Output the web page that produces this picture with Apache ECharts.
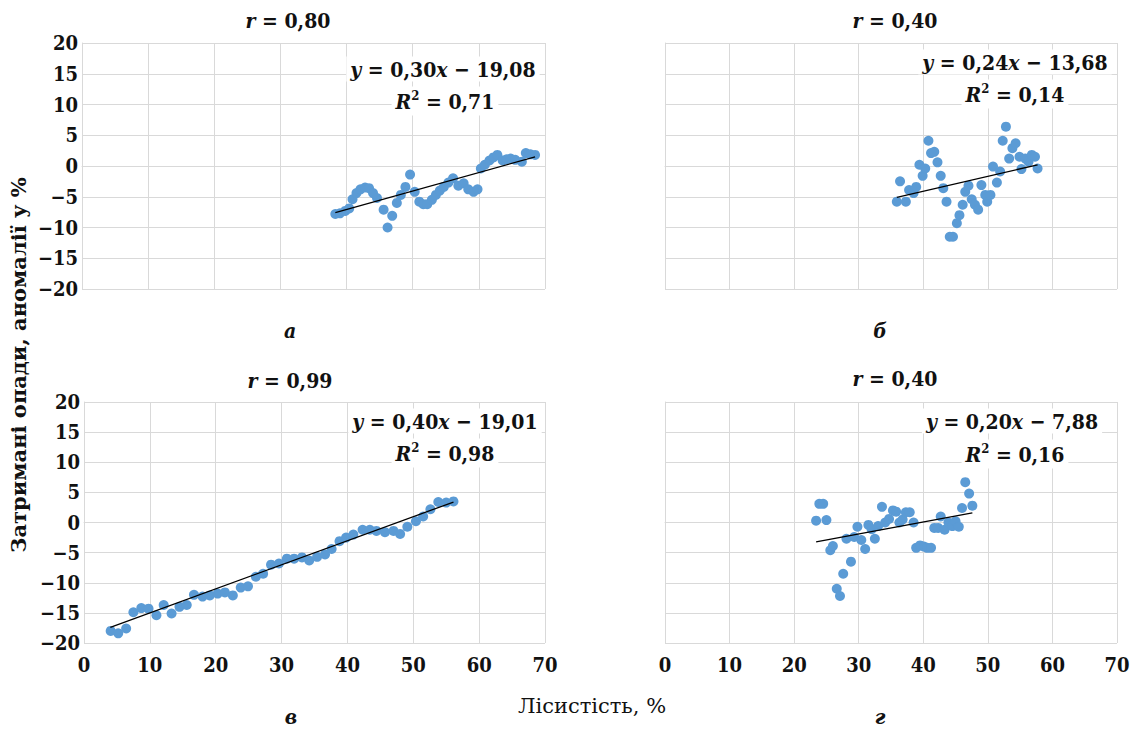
<!DOCTYPE html>
<html>
<head>
<meta charset="utf-8">
<script src="https://cdn.jsdelivr.net/npm/echarts@6/dist/echarts.min.js"></script>
<style>
html,body{margin:0;padding:0;background:#fff;}
#chart{width:1133px;height:730px;}
</style>
</head>
<body>
<div id="chart"></div>
<script>
// ---------- DATA ----------
const panelA = [[38.3,-7.8],[39.0,-7.7],[39.8,-7.3],[40.4,-6.9],[40.9,-5.4],[41.5,-4.4],[42.1,-3.8],[42.8,-3.5],[43.4,-3.6],[44.0,-4.4],[44.6,-5.2],[45.6,-7.1],[46.2,-10.0],[46.9,-8.1],[47.6,-6.0],[48.2,-4.7],[48.9,-3.4],[49.6,-1.4],[50.3,-4.2],[51.0,-5.8],[51.6,-6.2],[52.2,-6.2],[52.9,-5.5],[53.5,-4.7],[54.1,-4.0],[54.7,-3.4],[55.4,-2.7],[56.1,-2.0],[56.9,-3.2],[57.7,-2.8],[58.4,-3.8],[59.2,-4.2],[59.8,-3.8],[60.3,-0.4],[60.9,0.2],[61.6,0.9],[62.2,1.4],[62.8,1.8],[63.6,0.9],[64.2,1.1],[64.8,1.2],[65.5,1.0],[66.5,0.7],[67.1,2.1],[67.8,1.9],[68.5,1.8]];
const panelB = [[35.9,-5.8],[36.4,-2.5],[37.3,-5.8],[37.8,-3.9],[38.5,-4.4],[38.9,-3.4],[39.4,0.2],[39.9,-1.6],[40.3,-0.4],[40.8,4.1],[41.2,2.1],[41.7,2.3],[42.2,0.6],[42.7,-1.6],[43.1,-3.6],[43.6,-5.8],[44.1,-11.5],[44.6,-11.5],[45.2,-9.3],[45.6,-8.0],[46.1,-6.3],[46.5,-4.2],[47.0,-3.2],[47.5,-5.4],[48.0,-6.3],[48.5,-7.1],[49.0,-3.1],[49.6,-4.7],[49.9,-5.8],[50.4,-4.7],[50.8,-0.1],[51.4,-2.7],[51.9,-0.9],[52.3,4.1],[52.8,6.4],[53.3,1.2],[53.8,2.9],[54.3,3.7],[54.9,1.5],[55.2,-0.5],[55.8,1.2],[56.3,0.7],[56.8,1.8],[57.3,1.5],[57.7,-0.4]];
const panelC = [[4.05,-18.0],[5.2,-18.4],[6.4,-17.6],[7.5,-14.9],[8.7,-14.2],[9.8,-14.3],[11.0,-15.4],[12.1,-13.7],[13.3,-15.1],[14.5,-14.0],[15.6,-13.7],[16.7,-12.0],[18.0,-12.3],[19.1,-12.1],[20.3,-11.8],[21.4,-11.6],[22.6,-12.1],[23.8,-10.8],[24.9,-10.6],[26.1,-9.0],[27.2,-8.5],[28.4,-7.0],[29.6,-6.8],[30.8,-6.0],[31.9,-6.0],[33.1,-5.8],[34.2,-6.3],[35.4,-5.7],[36.6,-5.3],[37.6,-4.4],[38.8,-3.1],[39.8,-2.5],[40.9,-2.0],[42.3,-1.2],[43.4,-1.2],[44.4,-1.4],[45.7,-1.6],[47.0,-1.4],[48.0,-1.9],[49.1,-0.7],[50.4,0.2],[51.5,1.0],[52.6,2.2],[53.8,3.4],[55.0,3.3],[56.1,3.5]];
const panelD = [[23.4,0.3],[23.9,3.1],[24.5,3.1],[25.0,0.4],[25.6,-4.6],[26.0,-3.9],[26.6,-11.0],[27.1,-12.2],[27.6,-8.5],[28.1,-2.7],[28.8,-6.5],[29.3,-2.4],[29.8,-0.7],[30.4,-2.9],[31.0,-4.4],[31.5,-0.4],[32.0,-1.1],[32.5,-2.7],[33.0,-0.6],[33.6,2.6],[34.1,0.0],[34.7,0.6],[35.3,2.0],[35.8,1.8],[36.3,0.0],[36.8,0.5],[37.3,1.7],[37.9,1.7],[38.5,0.0],[38.9,-4.2],[39.5,-3.8],[40.1,-4.0],[40.6,-4.2],[41.2,-4.2],[41.7,-0.9],[42.3,-0.9],[42.7,1.0],[43.3,-1.2],[43.9,0.0],[44.5,-0.6],[45.0,0.2],[45.5,-0.7],[46.0,2.4],[46.5,6.7],[47.1,4.8],[47.6,2.8]];

const trendA = [[38.3,-7.6],[68.5,1.5]];
const trendB = [[35.9,-5.1],[57.7,0.2]];
const trendC = [[4.0,-17.4],[56.1,3.4]];
const trendD = [[23.4,-3.2],[47.6,1.6]];

const rTitles = ['0,80','0,40','0,99','0,40'];
const equations = [['0,30','19,08'],['0,24','13,68'],['0,40','19,01'],['0,20','7,88']];
const r2Values = ['0,71','0,14','0,98','0,16'];
const panelLetters = ['а','б','в','г'];
const xTicks = {min:0, max:70, interval:10};
const yTicks = {min:-20, max:20, interval:5};
const xAxisName = 'Лісистість, %';
const yAxisName = 'Затримані опади, аномалії у %';

// ---------- LAYOUT ----------
const FONT = '"DejaVu Serif Condensed", "DejaVu Serif", "Liberation Serif", serif';
const FONT_WIDE = '"DejaVu Serif", "Liberation Serif", serif';
const grids = [
  {left:82, top:43, width:463, height:246},
  {left:665, top:43, width:452, height:246},
  {left:84, top:402, width:461, height:241},
  {left:665, top:402, width:452, height:241}
];
const gridColor = '#d9d9d9';
const dotColor = '#5b9bd5';

const xAxes = grids.map((g,i)=>({
  type:'value', gridIndex:i, min:xTicks.min, max:xTicks.max, interval:xTicks.interval,
  axisLine:{show:true, lineStyle:{color:gridColor}},
  axisTick:{show:false},
  splitLine:{show:true, lineStyle:{color:gridColor, width:1}},
  axisLabel:{show:i>=2, color:'#111', fontFamily:FONT, fontWeight:'bold', fontSize:20, margin:12}
}));
const yAxes = grids.map((g,i)=>({
  type:'value', gridIndex:i, min:yTicks.min, max:yTicks.max, interval:yTicks.interval,
  axisLine:{show:true, lineStyle:{color:gridColor}},
  axisTick:{show:false},
  splitLine:{show:true, lineStyle:{color:gridColor, width:1}},
  axisLabel:{show:(i%2===0), color:'#111', fontFamily:FONT, fontWeight:'bold', fontSize:20, margin:4,
    formatter:v=> v<0 ? '\u2212'+Math.abs(v) : String(v)}
}));

const scatterData = [panelA,panelB,panelC,panelD];
const trendData = [trendA,trendB,trendC,trendD];
const series = [];
scatterData.forEach((d,i)=>{
  series.push({type:'scatter', xAxisIndex:i, yAxisIndex:i, data:d, symbolSize:10,
    itemStyle:{color:dotColor, opacity:1}, z:3});
});
trendData.forEach((d,i)=>{
  series.push({type:'line', xAxisIndex:i, yAxisIndex:i, data:d, symbol:'none',
    lineStyle:{color:'#000', width:1.3}, z:4});
});

// ---------- TEXTS ----------
const richItalic = {i:{fontStyle:'italic', fontWeight:'bold', fontFamily:FONT, fontSize:21, fill:'#111'},
                    sup:{fontWeight:'bold', fontFamily:FONT, fontSize:13, verticalAlign:'top', padding:[0,0,12,0]}};
function txt(x,y,text,opts){
  return Object.assign({type:'text', x:x, y:y, z:100, style:Object.assign({
    text:text, fontFamily:FONT, fontSize:21, fontWeight:'bold', fill:'#111',
    align:'center', verticalAlign:'middle', rich:richItalic
  }, opts||{})});
}
const titlePos = [[288,20],[895,20],[290,380],[895,378]];
const eqPos = [[443,69],[1015,62],[445,421],[1012,421]];
const r2Pos = [[445,101],[1015,94],[445,453],[1015,454]];
const letterPos = [[290,330],[880,330],[291,716],[880,716]];
const graphics = [];
for(let i=0;i<4;i++){
  graphics.push(txt(titlePos[i][0],titlePos[i][1],'{i|r} = '+rTitles[i]));
  graphics.push(txt(eqPos[i][0],eqPos[i][1],'{i|y} = '+equations[i][0]+'{i|x} \u2212 '+equations[i][1],
     {backgroundColor:'#fff', padding:[2,4]}));
  graphics.push(txt(r2Pos[i][0],r2Pos[i][1],'{i|R}{sup|2} = '+r2Values[i],
     {backgroundColor:'#fff', padding:[2,4]}));
  graphics.push(txt(letterPos[i][0],letterPos[i][1],'{i|'+panelLetters[i]+'}'));
}
graphics.push(txt(592,706,xAxisName,{fontWeight:'normal', fontSize:21, fontFamily:FONT_WIDE}));
graphics.push({type:'text', x:18, y:365, rotation:Math.PI/2, z:100,
  style:{text:yAxisName, fontFamily:FONT_WIDE, fontSize:21, fontWeight:'bold', fill:'#111',
    align:'center', verticalAlign:'middle'}});

const chart = echarts.init(document.getElementById('chart'), null, {renderer:'svg'});
chart.setOption({
  animation:false,
  backgroundColor:'#fff',
  grid:grids.map(g=>Object.assign({containLabel:false}, g)),
  xAxis:xAxes,
  yAxis:yAxes,
  series:series,
  graphic:graphics
});
</script>
</body>
</html>
